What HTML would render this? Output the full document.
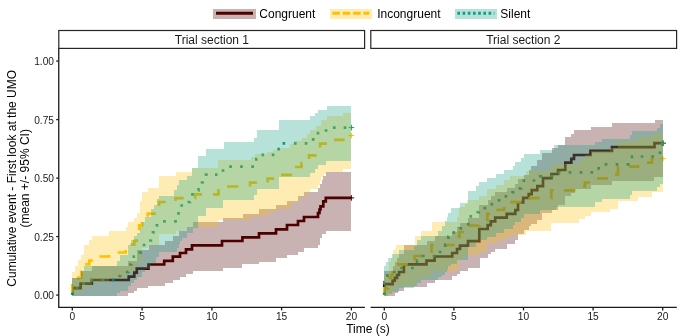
<!DOCTYPE html>
<html><head><meta charset="utf-8"><title>chart</title>
<style>
html,body{margin:0;padding:0;background:#fff}
#c{position:relative;width:685px;height:336px;overflow:hidden;background:#fff;font-family:"Liberation Sans",sans-serif}
.t{position:absolute;white-space:nowrap;line-height:1;padding-bottom:0}
.r{position:absolute;white-space:nowrap;line-height:1;font-size:11.7px;color:#000;transform:translate(-50%,-50%) rotate(-90deg)}
</style></head><body><div id="c">
<svg width="685" height="336" viewBox="0 0 685 336" style="position:absolute;left:0;top:0"><rect width="685" height="336" fill="#fff"/><g shape-rendering="crispEdges"><path d="M72.3 295.1H72.3V288.1H80.6V283.7H91.8V280.0H128.7V276.6H134.3V272.6H136.8V268.6H148.5V264.5H164.2V260.8H172.8V256.7H180.0V253.0H186.0V249.3H192.0V245.3H222.0V241.0H242.4V237.4H259.0V233.4H276.0V229.4H287.0V225.0H298.0V221.0H304.0V217.0H318.0V213.0H319.5V209.5H320.5V206.4H323.3V201.4H325.8V197.9H351.4" fill="none" stroke="#4d0000" stroke-width="2.67" stroke-linejoin="miter" shape-rendering="auto"/>
<path d="M348.6 197.9H354.2M351.4 195.1V200.7" stroke="#4d0000" stroke-width="1" fill="none" shape-rendering="auto"/>
<path d="M72.30 295.10L72.30 285.30L73.15 285.30M78.10 279.50L78.10 277.50L81.20 277.50L81.20 271.90L81.65 271.90M85.21 264.30L89.30 264.30L89.30 260.50L92.30 260.50L92.30 260.40M99.45 256.50L109.00 256.50L109.00 255.00M117.60 252.50L125.70 252.50L125.70 250.00M131.80 245.50L131.80 244.60L134.30 244.60L134.30 240.80L136.70 240.80L136.70 239.15M139.20 230.27L139.20 225.30L142.00 225.30L142.00 222.05M147.80 216.65L147.80 213.60L155.63 213.60M159.00 206.02L159.00 202.00L165.70 202.00M175.50 201.00L175.50 198.10L183.60 198.10M194.70 198.10L195.00 198.10L195.00 194.30L201.95 194.30M213.05 194.30L218.50 194.30L218.50 188.90M227.05 186.50L238.45 186.50M250.00 186.50L250.00 182.60L256.85 182.60M267.60 182.55L267.60 178.70L274.28 178.70M281.00 174.80L291.90 174.80M295.00 167.00L301.50 167.00L301.50 163.20L302.20 163.20M309.00 158.95L309.00 155.40L316.65 155.40M320.00 147.50L320.00 143.70L327.00 143.70M334.05 139.80L344.70 139.80M351.14 135.50L351.40 135.50" fill="none" stroke="#ffc000" stroke-width="2.67" stroke-linejoin="miter" shape-rendering="auto"/>
<path d="M348.6 135.5H354.2M351.4 132.7V138.3" stroke="#ffc000" stroke-width="1" fill="none" shape-rendering="auto"/>
<path d="M72.30 295.10L72.30 292.50M75.67 288.00L78.34 288.00M82.35 283.70L85.15 283.70M91.80 281.47L91.80 280.00L93.10 280.00M101.12 280.00L103.72 280.00M111.89 280.00L114.44 280.00M118.30 276.00L120.10 276.00L120.10 275.05M125.79 272.00L128.20 272.00L128.20 271.70M129.15 264.50L131.30 264.50L131.30 263.95M133.80 258.05L133.80 256.70L135.11 256.70M139.70 253.15L139.70 252.70L141.95 252.70M144.00 246.37L144.00 245.00L145.35 245.00M149.15 240.50L150.90 240.50L150.90 239.54M153.00 233.26L153.00 232.30L154.70 232.30M156.90 226.57L156.90 225.30L158.32 225.30M163.10 221.40L165.85 221.40M174.15 221.40L176.85 221.40M178.50 214.77L178.50 213.40L179.85 213.40M181.70 206.87L181.70 205.50L183.05 205.50M187.65 202.00L190.00 202.00L190.00 201.65M192.40 195.67L192.40 194.40L193.87 194.40M198.35 190.50L198.50 190.50L198.50 188.00M202.00 183.50L202.00 182.50L203.80 182.50M206.00 175.70L206.00 174.60L207.60 174.60M215.00 174.60L217.55 174.60M221.65 170.50L224.40 170.50M229.20 166.70L231.95 166.70M240.15 166.70L242.85 166.70M251.25 166.70L253.95 166.70M256.30 160.82L256.30 159.00L257.16 159.00M261.50 154.80L264.15 154.80M271.75 154.80L274.40 154.80M278.70 150.40L278.70 147.70M282.50 143.40L285.20 143.40M293.90 143.40L296.60 143.40M304.70 143.40L307.40 143.40M311.80 139.30L314.55 139.30M318.00 134.45L318.00 133.00L319.20 133.00M324.70 130.50L327.40 130.50M332.96 127.60L335.61 127.60M343.68 127.60L346.29 127.60" fill="none" stroke="#0e9e83" stroke-width="2.67" stroke-linejoin="miter" shape-rendering="auto"/>
<path d="M348.6 127.6H354.2M351.4 124.8V130.4" stroke="#0e9e83" stroke-width="1" fill="none" shape-rendering="auto"/>
<path d="M72.3 278.0H80.6V271.0H91.8V266.3H128.2V261.0H136.8V250.0H148.5V245.0H164.7V240.5H173.1V236.4H179.3V231.3H186.8V227.3H192.6V222.1H223.4V217.6H243.0V213.5H259.1V209.2H276.2V205.3H287.4V200.7H298.0V196.2H304.1V192.1H317.7V187.5H320.0V184.0H321.5V180.0H323.3V176.3H326.4V171.9H351.4V230.6H325.5V234.2H322.3V237.5H320.0V245.0H317.9V248.4H303.6V252.0H298.2V255.3H287.2V258.3H276.3V261.5H258.5V264.3H242.0V267.8H222.9V270.6H192.7V274.0H186.0V277.0H180.0V280.2H173.3V282.7H164.7V285.8H148.0V288.3H136.8V290.8H133.8V293.4H128.2V295.5H72.3Z" fill="#4d0000" fill-opacity="0.3" stroke="none"/>
<path d="M72.3 272.0H75.3V266.3H78.1V260.4H81.2V255.3H84.2V245.2H89.3V240.1H92.3V236.1H109.0V231.0H125.7V227.3H128.1V222.2H134.2V217.7H136.7V213.1H139.7V201.0H142.0V192.0H148.0V188.0H159.0V175.8H176.0V172.3H192.2V168.0H217.5V160.1H251.0V156.6H254.6V153.7H267.0V151.6H273.0V149.5H279.0V147.5H289.5V144.4H293.6V141.3H302.0V138.3H307.0V134.0H310.0V130.0H316.0V126.0H321.4V119.8H326.5V115.7H343.0V112.6H351.4V169.0H343.0V171.6H326.0V174.0H324.0V177.0H321.4V181.0H320.0V185.0H318.0V189.0H309.6V192.1H306.5V196.2H301.2V200.7H292.9V204.8H289.9V208.5H276.0V212.0H267.7V215.7H250.5V219.8H218.3V226.8H186.5V230.8H175.7V233.9H159.0V245.0H147.5V248.0H141.9V261.3H137.4V267.4H134.8V270.0H131.8V273.0H125.7V277.5H109.0V282.2H92.3V285.8H83.0V291.0H78.0V293.4H72.3Z" fill="#ffc000" fill-opacity="0.3" stroke="none"/>
<path d="M72.3 278.0H80.6V271.0H84.2V266.3H117.1V260.8H120.1V255.2H128.2V245.0H131.3V240.0H134.2V236.4H136.7V233.4H139.7V226.8H142.3V222.2H145.3V217.2H150.9V209.1H153.9V205.0H157.0V199.0H159.0V196.0H174.0V190.0H177.0V185.0H179.0V179.9H187.1V175.8H192.2V168.0H198.1V156.1H206.2V149.3H223.5V142.0H254.0V137.6H257.0V130.0H279.3V119.8H310.0V115.7H315.0V112.6H318.3V109.5H326.5V106.0H351.4V161.0H326.0V165.0H318.0V169.0H315.0V173.0H310.0V177.0H279.0V189.0H257.0V195.0H254.0V200.1H223.4V208.3H205.6V215.5H197.8V227.8H192.6V233.0H186.5V238.0H181.7V241.0H180.0V244.0H178.5V248.0H177.0V252.2H159.0V257.2H155.6V262.8H151.0V266.5H149.5V268.6H144.9V271.6H142.4V277.2H136.8V279.7H134.3V282.7H130.7V285.8H128.2V290.8H120.1V293.4H117.1V295.5H72.3Z" fill="#0e9e83" fill-opacity="0.3" stroke="none"/><path d="M384.3 295.1H384.3V284.1H392.6V280.7H394.8V277.8H397.0V275.0H399.0V272.0H403.9V264.4H426.5V260.6H434.6V256.5H452.2V253.0H457.0V249.0H460.0V245.6H468.0V241.2H479.3V229.0H487.7V225.1H490.8V221.4H495.2V217.6H506.7V213.8H515.3V210.0H518.0V202.5H523.2V197.8H528.7V194.2H531.7V190.2H537.3V186.2H543.0V178.1H551.5V174.0H558.0V170.0H565.3V162.6H571.3V158.8H574.0V155.0H590.5V150.8H612.0V147.2H654.5V143.2H663.0" fill="none" stroke="#4d0000" stroke-width="2.67" stroke-linejoin="miter" shape-rendering="auto"/>
<path d="M660.2 143.2H665.8M663.0 140.4V146.0" stroke="#4d0000" stroke-width="1" fill="none" shape-rendering="auto"/>
<path d="M384.30 295.10L384.30 288.30L388.00 288.30L388.00 288.00M389.40 278.50L389.40 278.20L391.00 278.20L391.00 275.00L392.60 275.00L392.60 272.00L393.73 272.00M397.00 264.40L407.80 264.40M414.50 260.17L414.50 256.00L420.80 256.00L420.80 254.45M431.50 253.00L431.50 245.00L433.60 245.00M443.70 245.00L454.80 245.00M458.50 237.55L458.50 237.00L459.40 237.00L459.40 232.00L463.80 232.00M468.25 225.50L479.30 225.50L479.30 225.10M487.40 221.60L487.40 213.80L489.95 213.80M496.40 209.90L504.10 209.90L504.10 206.85M510.20 202.10L521.25 202.10M528.45 198.20L539.68 198.20M551.05 198.20L551.40 198.20L551.40 190.40L553.55 190.40M564.00 190.40L575.50 190.40M583.05 186.40L585.00 186.40L585.00 182.50L590.10 182.50M597.00 178.40L607.90 178.40M615.00 174.50L618.00 174.50L618.00 166.60L618.05 166.60M629.05 166.60L638.00 166.60L638.00 164.70M647.00 162.70L652.00 162.70L652.00 158.70L653.65 158.70" fill="none" stroke="#ffc000" stroke-width="2.67" stroke-linejoin="miter" shape-rendering="auto"/>
<path d="M660.2 158.7H665.8M663.0 155.9V161.5" stroke="#ffc000" stroke-width="1" fill="none" shape-rendering="auto"/>
<path d="M384.30 295.10L384.30 292.45M384.30 284.45L384.30 282.00L384.45 282.00M387.50 277.00L387.50 275.70L388.80 275.70M393.10 272.00L395.80 272.00M400.20 268.00L402.95 268.00M411.05 268.00L413.75 268.00M417.00 262.88L417.00 260.30L417.25 260.30M421.85 256.00L424.60 256.00M432.70 256.00L435.25 256.00M438.75 252.00L441.45 252.00M445.30 246.95L445.30 244.50L445.66 244.50M448.40 238.95L448.40 236.50L448.60 236.50M452.50 232.40L455.15 232.40M459.60 228.55L459.60 228.30L462.16 228.30M468.20 225.55L468.20 222.85M469.45 216.30L472.10 216.30M476.50 212.20L478.80 212.20L478.80 211.75M483.53 208.20L486.24 208.20M490.45 204.20L493.15 204.20M497.66 200.30L500.38 200.30M504.55 196.30L507.25 196.30M512.60 193.35L512.60 192.40L514.34 192.40M518.63 188.40L521.30 188.40L521.30 188.25M523.90 182.05L523.90 180.50L525.05 180.50M532.65 180.50L535.25 180.50M540.20 177.16L540.20 176.40L542.21 176.40M550.69 176.40L553.45 176.40M557.65 172.40L560.35 172.40M568.65 172.40L571.35 172.40M579.65 172.40L582.35 172.40M590.45 172.40L593.15 172.40M597.25 168.30L600.00 168.30M604.60 164.30L607.35 164.30M615.65 164.30L618.35 164.30M626.65 164.30L629.45 164.30M632.00 158.15L632.00 156.50L633.05 156.50M640.77 156.50L643.32 156.50M651.29 156.50L653.99 156.50M658.60 152.60L660.10 152.60L660.10 151.39M662.50 145.73L662.50 143.40L662.80 143.40" fill="none" stroke="#0e9e83" stroke-width="2.67" stroke-linejoin="miter" shape-rendering="auto"/>
<path d="M660.2 143.4H665.8M663.0 140.6V146.2" stroke="#0e9e83" stroke-width="1" fill="none" shape-rendering="auto"/>
<path d="M384.3 271.3H392.6V266.0H394.8V262.0H397.0V258.0H399.0V254.0H403.9V245.1H426.5V241.0H434.6V235.7H452.2V231.5H457.0V227.0H460.0V222.6H468.0V218.2H479.3V205.4H487.7V200.3H490.8V196.2H495.2V192.2H506.7V188.1H515.3V184.1H517.8V178.5H523.8V175.0H529.0V169.5H531.4V165.5H537.0V160.0H542.0V152.5H551.5V148.0H558.0V144.6H565.3V136.5H571.3V133.5H574.0V130.2H590.5V126.5H612.0V123.0H654.9V119.5H663.0V177.0H654.0V181.0H612.0V185.0H590.5V188.6H575.0V192.7H571.3V196.2H565.3V205.0H558.0V210.0H551.5V212.7H542.0V220.0H537.0V224.0H531.4V226.0H529.0V230.0H523.8V234.0H517.8V240.0H515.3V244.0H506.7V248.8H495.2V252.0H490.8V253.5H487.7V258.4H479.6V267.5H468.0V270.7H460.0V273.8H457.0V276.3H452.2V279.7H434.6V283.2H426.5V286.5H403.9V290.8H398.2V293.4H394.8V295.5H384.3Z" fill="#4d0000" fill-opacity="0.3" stroke="none"/>
<path d="M384.3 275.0H388.0V270.0H389.4V262.0H391.0V258.0H392.6V250.2H394.5V247.5H396.0V245.1H414.7V235.7H420.8V231.1H431.5V221.9H457.0V217.0H458.5V212.0H459.4V207.0H465.0V203.5H467.0V200.3H479.3V196.2H487.4V189.2H496.0V184.6H504.1V180.0H509.7V176.0H526.0V171.3H551.4V163.8H579.0V159.4H585.0V155.4H591.0V151.3H610.0V147.5H618.0V140.5H638.0V137.0H652.1V133.7H663.0V192.0H652.0V196.6H638.0V201.0H618.0V208.6H610.0V212.0H591.0V216.0H585.0V219.4H579.0V223.0H551.4V230.8H526.0V234.5H509.7V238.0H504.1V241.0H496.0V243.2H487.4V252.3H479.3V254.8H465.0V257.9H460.4V262.0H458.5V266.0H457.0V271.0H431.5V277.2H420.8V280.0H414.5V286.3H396.0V290.8H392.6V293.4H389.4V295.5H384.3Z" fill="#ffc000" fill-opacity="0.3" stroke="none"/>
<path d="M384.3 265.7H386.0V262.0H387.5V258.0H392.0V254.0H399.0V250.0H414.0V246.0H417.0V240.0H421.0V235.7H438.0V230.7H442.0V225.7H445.3V221.0H447.0V217.0H448.4V213.0H451.0V208.0H459.6V203.1H468.2V190.7H476.3V186.1H478.8V182.1H487.4V178.0H496.0V174.0H504.4V170.0H512.6V166.0H515.0V162.0H521.3V158.2H523.9V154.4H540.2V150.0H554.0V145.0H595.0V142.0H602.0V139.0H630.0V135.0H632.0V131.3H657.3V127.8H660.1V124.1H663.0V184.0H660.1V187.0H657.3V191.0H632.0V195.0H630.0V199.0H602.0V202.0H595.0V206.7H556.0V210.0H540.2V214.3H523.9V218.0H521.3V222.0H515.0V225.0H512.6V229.0H504.4V233.0H496.0V236.6H487.4V239.5H478.8V241.7H476.3V247.2H468.2V260.0H457.0V263.5H451.0V265.5H448.4V269.5H447.0V272.0H445.3V274.5H442.0V277.0H438.0V280.2H421.0V283.2H417.0V285.8H414.0V288.3H399.0V291.5H392.0V294.0H387.5V295.5H384.3Z" fill="#0e9e83" fill-opacity="0.3" stroke="none"/></g><rect x="58.8" y="30.5" width="305.8" height="17.9" fill="#fff" stroke="#262626" stroke-width="1.2"/><rect x="370.8" y="30.5" width="305.8" height="17.9" fill="#fff" stroke="#262626" stroke-width="1.2"/><path d="M58.75 48.6V307.4H364.9M370.6 307.4H676.8" stroke="#1a1a1a" stroke-width="1.3" fill="none"/><path d="M56.2 61.1H58.7" stroke="#1a1a1a" stroke-width="1.3"/><path d="M56.2 119.6H58.7" stroke="#1a1a1a" stroke-width="1.3"/><path d="M56.2 178.1H58.7" stroke="#1a1a1a" stroke-width="1.3"/><path d="M56.2 236.6H58.7" stroke="#1a1a1a" stroke-width="1.3"/><path d="M56.2 295.1H58.7" stroke="#1a1a1a" stroke-width="1.3"/><path d="M72.3 307.4V310.4" stroke="#1a1a1a" stroke-width="1.3"/><path d="M142.1 307.4V310.4" stroke="#1a1a1a" stroke-width="1.3"/><path d="M211.9 307.4V310.4" stroke="#1a1a1a" stroke-width="1.3"/><path d="M281.6 307.4V310.4" stroke="#1a1a1a" stroke-width="1.3"/><path d="M351.4 307.4V310.4" stroke="#1a1a1a" stroke-width="1.3"/><path d="M384.3 307.4V310.4" stroke="#1a1a1a" stroke-width="1.3"/><path d="M453.9 307.4V310.4" stroke="#1a1a1a" stroke-width="1.3"/><path d="M523.5 307.4V310.4" stroke="#1a1a1a" stroke-width="1.3"/><path d="M593.1 307.4V310.4" stroke="#1a1a1a" stroke-width="1.3"/><path d="M662.7 307.4V310.4" stroke="#1a1a1a" stroke-width="1.3"/><rect x="213.2" y="8.5" width="42.7" height="10.4" fill="#4d0000" fill-opacity="0.3" shape-rendering="crispEdges"/><path d="M216.0 13.3H253.0" stroke="#4d0000" stroke-width="3"  fill="none"/><rect x="329.5" y="8.5" width="42.7" height="10.4" fill="#ffc000" fill-opacity="0.3" shape-rendering="crispEdges"/><path d="M332.3 13.3H369.3" stroke="#ffc000" stroke-width="3" stroke-dasharray="7.6 2.8" fill="none"/><rect x="454.6" y="8.5" width="42.7" height="10.4" fill="#0e9e83" fill-opacity="0.3" shape-rendering="crispEdges"/><path d="M457.4 13.3H494.4" stroke="#0e9e83" stroke-width="3" stroke-dasharray="2.6 2.6" fill="none"/></svg><svg width="685" height="336" viewBox="0 0 685 336" style="position:absolute;left:0;top:0;will-change:transform;opacity:0.999"><g font-family="Liberation Sans, sans-serif"><text x="54.0" y="65.3" font-size="10.2" fill="#1a1a1a" text-anchor="end" >1.00</text><text x="54.0" y="123.8" font-size="10.2" fill="#1a1a1a" text-anchor="end" >0.75</text><text x="54.0" y="182.29999999999998" font-size="10.2" fill="#1a1a1a" text-anchor="end" >0.50</text><text x="54.0" y="240.79999999999998" font-size="10.2" fill="#1a1a1a" text-anchor="end" >0.25</text><text x="54.0" y="299.3" font-size="10.2" fill="#1a1a1a" text-anchor="end" >0.00</text><text x="72.3" y="320.4" font-size="10.2" fill="#1a1a1a" text-anchor="middle" >0</text><text x="142.1" y="320.4" font-size="10.2" fill="#1a1a1a" text-anchor="middle" >5</text><text x="211.9" y="320.4" font-size="10.2" fill="#1a1a1a" text-anchor="middle" >10</text><text x="281.6" y="320.4" font-size="10.2" fill="#1a1a1a" text-anchor="middle" >15</text><text x="351.4" y="320.4" font-size="10.2" fill="#1a1a1a" text-anchor="middle" >20</text><text x="384.3" y="320.4" font-size="10.2" fill="#1a1a1a" text-anchor="middle" >0</text><text x="453.9" y="320.4" font-size="10.2" fill="#1a1a1a" text-anchor="middle" >5</text><text x="523.5" y="320.4" font-size="10.2" fill="#1a1a1a" text-anchor="middle" >10</text><text x="593.1" y="320.4" font-size="10.2" fill="#1a1a1a" text-anchor="middle" >15</text><text x="662.7" y="320.4" font-size="10.2" fill="#1a1a1a" text-anchor="middle" >20</text><text x="368" y="333" font-size="12" fill="#000" text-anchor="middle" >Time (s)</text><text x="211.9" y="43.9" font-size="12" fill="#1a1a1a" text-anchor="middle" >Trial section 1</text><text x="523.3" y="43.9" font-size="12" fill="#1a1a1a" text-anchor="middle" >Trial section 2</text><text x="259.3" y="17.7" font-size="12" fill="#000" text-anchor="start" >Congruent</text><text x="377.2" y="17.7" font-size="12" fill="#000" text-anchor="start" >Incongruent</text><text x="500.3" y="17.7" font-size="12" fill="#000" text-anchor="start" >Silent</text><text transform="translate(16.1,178.3) rotate(-90)" font-size="12" text-anchor="middle" fill="#000">Cumulative event - First look at the UMO</text><text transform="translate(28.7,178.3) rotate(-90)" font-size="12" text-anchor="middle" fill="#000">(mean +/- 95% CI)</text></g></svg>

</div></body></html>
